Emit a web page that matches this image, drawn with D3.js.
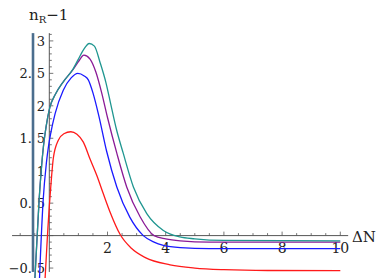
<!DOCTYPE html>
<html><head><meta charset="utf-8">
<script src="https://cdnjs.cloudflare.com/ajax/libs/d3/7.8.5/d3.min.js"></script>
<style>html,body{margin:0;padding:0;background:#fff;}svg{display:block;}</style>
</head><body>
<script>
// ---- data ----
const redX  = [-0.15,-0.1,-0.05,0,0.05,0.14,0.31,0.5,0.74,0.95,1.17,1.4,1.63,1.86,2.09,2.43,2.83,3.3,4.15,5,6,7.5,10];
const redY  = [-0.7,-0.3,0.1,0.45,0.75,1.2,1.47,1.57,1.6,1.56,1.44,1.18,0.93,0.64,0.36,0.02,-0.2,-0.34,-0.45,-0.5,-0.525,-0.538,-0.54];
const blueX = [-0.34,-0.32,-0.21,-0.1,-0.02,0.05,0.2,0.48,0.75,0.98,1.2,1.34,1.5,1.7,1.97,2.32,2.77,3.23,3.6,3.92,4.5,5.5,7,10];
const blueY = [-0.7,-0.48,0.55,1.12,1.4,1.58,1.88,2.24,2.43,2.5,2.46,2.4,2.2,1.85,1.3,0.75,0.28,0.0,-0.1,-0.15,-0.185,-0.2,-0.2,-0.2];
const purpleX = [-0.5,-0.35,-0.2,-0.11,0.02,0.2,0.48,0.82,1.0,1.19,1.4,1.6,1.8,2.0,2.32,2.66,3.12,3.6,4.0,4.5,5.5,7,10];
const purpleY = [-0.7,0.55,1.38,1.68,1.98,2.17,2.37,2.56,2.68,2.78,2.72,2.52,2.2,1.82,1.27,0.75,0.29,0.0,-0.05,-0.08,-0.1,-0.1,-0.1];
const tealX = [-0.5,-0.35,-0.2,-0.11,0.02,0.2,0.48,0.82,1.0,1.2,1.37,1.55,1.75,1.95,2.1,2.3,2.54,2.89,3.35,3.92,4.49,5,6,10];
const tealY = [-0.7,0.55,1.38,1.68,1.98,2.17,2.37,2.57,2.72,2.88,2.96,2.92,2.66,2.35,2.05,1.65,1.27,0.75,0.34,0.08,-0.02,-0.05,-0.075,-0.08];
const asymX = [-0.56,-0.56];
const asymY = [3.12,-0.56];

const xTickLabels = [2,4,6,8,10];
const yTickLabels = [-0.5,0.5,1,1.5,2,2.5,3];
const xAxisExtent = [-1.28,10.27];
const yAxisExtent = [-0.56,3.12];

const W=388,H=278;
const svg=d3.select("body").append("svg").attr("width",W).attr("height",H);
const x=d3.scaleLinear().domain([0,10]).range([49.3,340.3]);
const y=d3.scaleLinear().domain([0,3]).range([235.6,40.9]);
const axisColor="#555";
const font="'DejaVu Serif', serif";

// axes
svg.append("line").attr("x1",x(xAxisExtent[0])).attr("x2",x(xAxisExtent[1]))
  .attr("y1",y(0)).attr("y2",y(0)).attr("stroke",axisColor).attr("stroke-width",1);
svg.append("line").attr("x1",x(0)).attr("x2",x(0))
  .attr("y1",y(yAxisExtent[0])).attr("y2",y(yAxisExtent[1])).attr("stroke",axisColor).attr("stroke-width",1);

// x ticks
const xMinor=d3.range(-2,21).map(d=>d/2).filter(d=>d!==0 && x(d)>x(xAxisExtent[0]) && d<=10);
svg.append("g").selectAll("line").data(xMinor).join("line")
  .attr("x1",d=>x(d)).attr("x2",d=>x(d)).attr("y1",y(0))
  .attr("y2",d=>y(0)-(xTickLabels.includes(d)?4:2.5)).attr("stroke",axisColor).attr("stroke-width",0.8);
svg.append("g").selectAll("text").data(xTickLabels).join("text")
  .attr("x",d=>x(d)).attr("y",y(0)+17).attr("text-anchor","middle")
  .attr("font-family",font).attr("font-size",14).attr("fill","#222").text(d=>d);

// y ticks
const yMinor=d3.range(-5,32).map(d=>d/10);
svg.append("g").selectAll("line").data(yMinor).join("line")
  .attr("x1",x(0)).attr("x2",d=>x(0)+(Math.abs(d*2-Math.round(d*2))<1e-6?4:2.5))
  .attr("y1",d=>y(d)).attr("y2",d=>y(d)).attr("stroke",axisColor).attr("stroke-width",0.8);
const yl=svg.append("g").selectAll("text").data(yTickLabels).join("text")
  .attr("font-family",font).attr("font-size",13).attr("fill","#222").attr("text-anchor","end");
yl.each(function(d){
  const t=d3.select(this);
  const s=String(d).replace("-","\u2212");
  if(Number.isInteger(d)){
    t.append("tspan").attr("x",45).attr("y",y(d)+5).text(s);
  } else {
    const i=s.indexOf(".");
    t.append("tspan").attr("x",32).attr("y",y(d)+5).text(s.slice(0,i+1));
    t.append("tspan").attr("x",45).attr("y",y(d)+5).text(s.slice(i+1));
  }
});

// thick vertical line
svg.append("path").datum(asymX.map((v,i)=>[v,asymY[i]]))
  .attr("d",d3.line().x(d=>x(d[0])).y(d=>y(d[1])))
  .attr("stroke","#4b6e8e").attr("stroke-width",2.6).attr("fill","none");

// curves
const series=[
  {xs:redX,ys:redY,c:"#ff1a1a"},
  {xs:blueX,ys:blueY,c:"#1a1aff"},
  {xs:purpleX,ys:purpleY,c:"#8a1a96"},
  {xs:tealX,ys:tealY,c:"#1f9690"}
];
const line=d3.line().x(d=>x(d[0])).y(d=>y(d[1])).curve(d3.curveMonotoneX);
series.forEach(s=>{
  svg.append("path").datum(s.xs.map((v,i)=>[v,s.ys[i]]))
    .attr("d",line).attr("fill","none").attr("stroke",s.c).attr("stroke-width",1.3);
});

// labels
const yt=svg.append("text").attr("x",29).attr("y",20).attr("font-family",font).attr("font-size",15).attr("fill","#222");
yt.append("tspan").text("n");
yt.append("tspan").attr("font-size",10).attr("dy",3).text("R");
yt.append("tspan").attr("dy",-3).text("\u22121");
svg.append("text").attr("x",352).attr("y",242).attr("font-family",font).attr("font-size",15).attr("fill","#222").text("\u0394N");
</script>
</body></html>
